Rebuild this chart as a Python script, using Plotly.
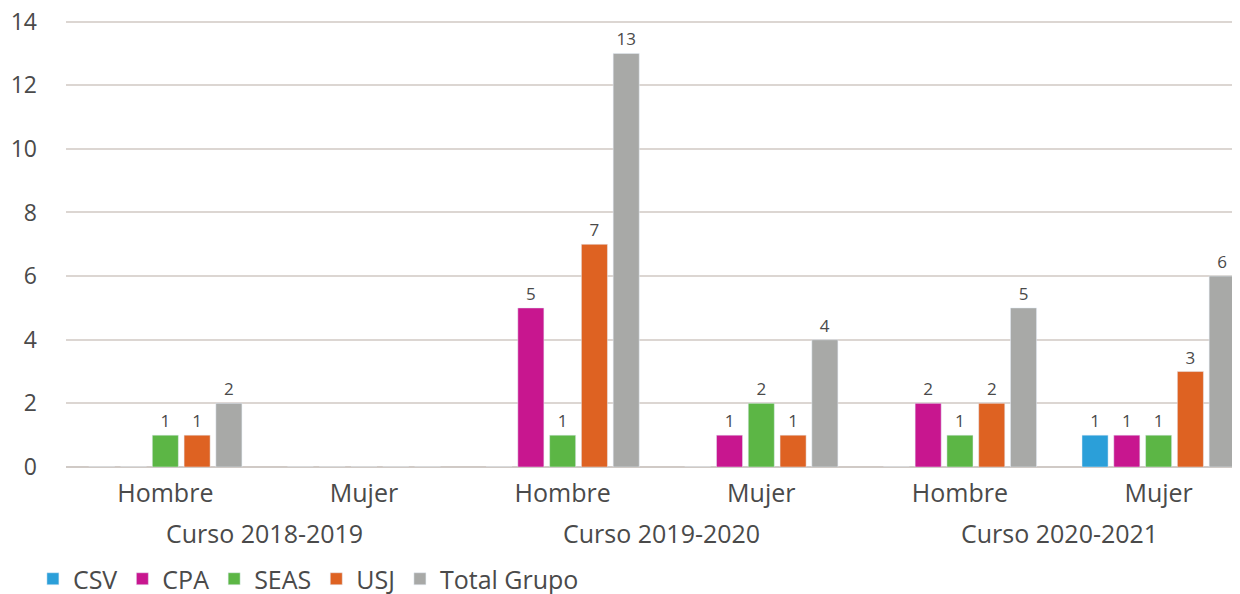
import plotly.graph_objects as go

cursos = ["Curso 2018-2019", "Curso 2019-2020", "Curso 2020-2021"]
sexo = ["Hombre", "Mujer", "Hombre", "Mujer", "Hombre", "Mujer"]
grupos = ["18-19 H", "18-19 M", "19-20 H", "19-20 M", "20-21 H", "20-21 M"]

csv = [0, 0, 0, 0, 0, 1]
cpa = [0, 0, 5, 1, 2, 1]
seas = [1, 0, 1, 2, 1, 1]
usj = [1, 0, 7, 1, 2, 3]
total = [2, 0, 13, 4, 5, 6]

series = [
    ("CSV", csv, "#2b9fd9"),
    ("CPA", cpa, "#c8168f"),
    ("SEAS", seas, "#5cb645"),
    ("USJ", usj, "#de6222"),
    ("Total Grupo", total, "#a8a9a7"),
]

font_name = "Open Sans"
txt_color = "#4a4a4a"

fig = go.Figure()
for name, vals, color in series:
    fig.add_trace(go.Bar(
        x=grupos, y=vals, name=name,
        marker_color=color,
        text=[str(v) if v else "" for v in vals],
        textposition="outside", cliponaxis=False,
        textfont=dict(size=17, color=txt_color, family=font_name),
    ))

# etiquetas de curso debajo de cada par Hombre/Mujer
for i, curso in enumerate(cursos):
    fig.add_annotation(x=2 * i + 0.5, xref="x", y=-0.148, yref="paper",
                       text=curso, showarrow=False, yanchor="middle",
                       font=dict(size=25, color=txt_color, family=font_name))

fig.update_layout(
    barmode="group", bargap=0.2, bargroupgap=0.18,
    width=1240, height=594,
    margin=dict(l=58, r=0, t=12, b=135),
    plot_bgcolor="white", paper_bgcolor="white",
    font=dict(family=font_name, size=25, color=txt_color),
    legend=dict(orientation="h", x=-0.028, xanchor="left",
                yref="container", y=-0.012, yanchor="bottom",
                font=dict(size=25), traceorder="normal"),
    showlegend=True,
)
fig.update_xaxes(range=[-0.5, 5.45], showline=False, ticks="",
                 tickmode="array", tickvals=grupos, ticktext=sexo,
                 tickfont=dict(size=25), automargin=False, ticklabelstandoff=9)
fig.update_yaxes(range=[0, 14.05], tickvals=[0, 2, 4, 6, 8, 10, 12, 14],
                 showgrid=True, gridcolor="#dcd6d2",
                 gridwidth=2, zeroline=True, zerolinecolor="#d0cac6", zerolinewidth=2,
                 ticklabelstandoff=28, tickfont=dict(size=23), automargin=False,
                 ticklabeloverflow="allow")

fig.write_html("out.html")
